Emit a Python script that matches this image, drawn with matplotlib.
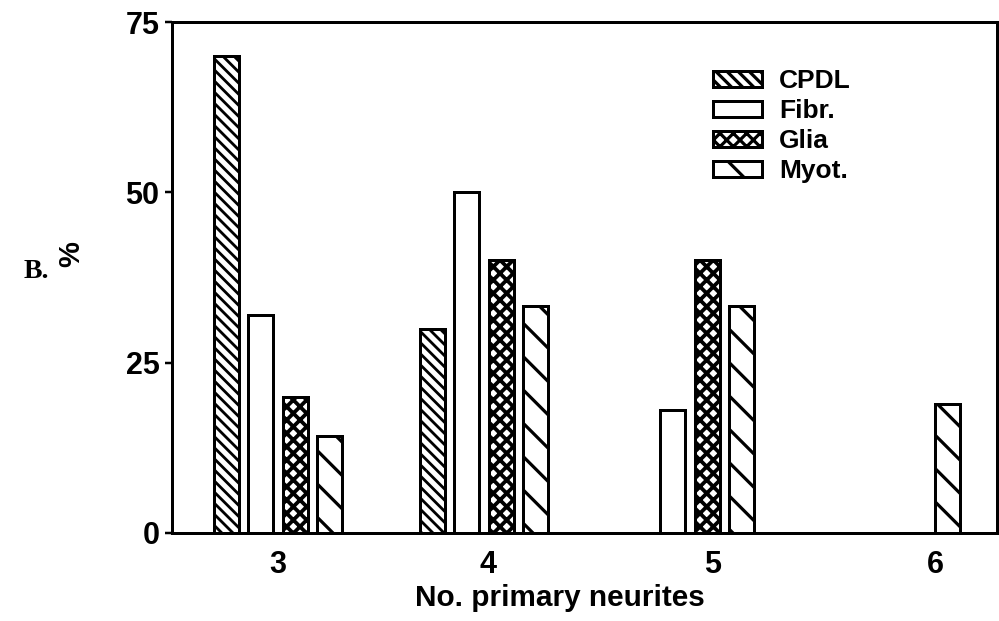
import numpy as np
import matplotlib
matplotlib.use("Agg")
import matplotlib.pyplot as plt

# ---- data ----
categories = ['3', '4', '5', '6']
series_names = ['CPDL', 'Fibr.', 'Glia', 'Myot.']
cpdl = [70, 30, 0, 0]
fibr = [32, 50, 18, 0]
glia = [20, 40, 40, 0]
myot = [14.3, 33.3, 33.3, 19]
yticks = [0, 25, 50, 75]

# ---- style ----
DPI = 200
PT = 72.0 / DPI  # points per pixel
plt.rcParams['font.family'] = ['Liberation Sans', 'DejaVu Sans']
plt.rcParams['font.weight'] = 'bold'

fig = plt.figure(figsize=(999 / DPI, 621 / DPI), dpi=DPI)
ax = fig.add_axes([172 / 999, 1 - 533 / 621, (997 - 172) / 999, (533 - 22) / 621])

hatches = ['\\' * 6, '', 'x' * 5, '\\' * 2]
hatch_lw = [2.8, 1.0, 3.8, 3.2]
values = [cpdl, fibr, glia, myot]
step = 0.1675
width = 0.121
offsets = (np.arange(4) - 1.5) * step
xg = np.arange(len(categories))


def with_hatch_lw(artist, lw):
    orig = artist.draw

    def draw(renderer, _orig=orig, _lw=lw):
        with plt.rc_context({'hatch.linewidth': _lw}):
            _orig(renderer)
    artist.draw = draw


handles = []
for k, (vals, h, hl) in enumerate(zip(values, hatches, hatch_lw)):
    vals = np.asarray(vals, dtype=float)
    mask = vals > 0
    plt.rcParams['hatch.linewidth'] = hl * PT
    bars = ax.bar(xg[mask] + offsets[k], vals[mask], width=width,
                  facecolor='white', edgecolor='black', linewidth=3 * PT,
                  hatch=h, label=series_names[k], zorder=3)
    for b in bars:
        with_hatch_lw(b, hl * PT)
    handles.append(bars)

ax.set_xlim(-0.515, 3.49)
ax.set_ylim(0, 75)

tick_offsets = [0.0, 0.02, 0.11, 0.19]
ax.set_xticks(xg + np.array(tick_offsets))
ax.set_xticklabels(categories, fontsize=11, fontweight='bold')
ax.tick_params(axis='x', length=0, pad=6)
ax.set_yticks(yticks)
ax.set_yticklabels([str(v) for v in yticks], fontsize=11, fontweight='bold')
ax.tick_params(axis='y', length=7 * PT, width=2.5 * PT, pad=2)

for s in ax.spines.values():
    s.set_linewidth(3 * PT)

ax.set_xlabel('No. primary neurites', fontsize=10.7, fontweight='bold')
ax.xaxis.set_label_coords(0.47, -0.10)

ax.text(-0.122, 0.545, '%', rotation=90, ha='center', va='center',
        fontsize=10.5, fontweight='bold', transform=ax.transAxes)
fig.text(24 / 999, 1 - 272 / 621, 'B.', family=['Liberation Serif'],
         fontweight='bold', fontsize=10, ha='left', va='center')

leg = ax.legend(handles=handles, loc='upper left',
                bbox_to_anchor=((713 - 172) / 825, 1 - (69 - 22) / 511),
                frameon=False, fontsize=9.5, handlelength=1.85,
                handleheight=0.55, handletextpad=0.65, labelspacing=0.23,
                borderaxespad=0, borderpad=0)
for t in leg.get_texts():
    t.set_fontweight('bold')
lh = getattr(leg, 'legend_handles', None) or getattr(leg, 'legendHandles', [])
for p, hl in zip(lh, hatch_lw):
    p.set_linewidth(3 * PT)
    with_hatch_lw(p, hl * PT)

fig.savefig('out.png', dpi=DPI)
